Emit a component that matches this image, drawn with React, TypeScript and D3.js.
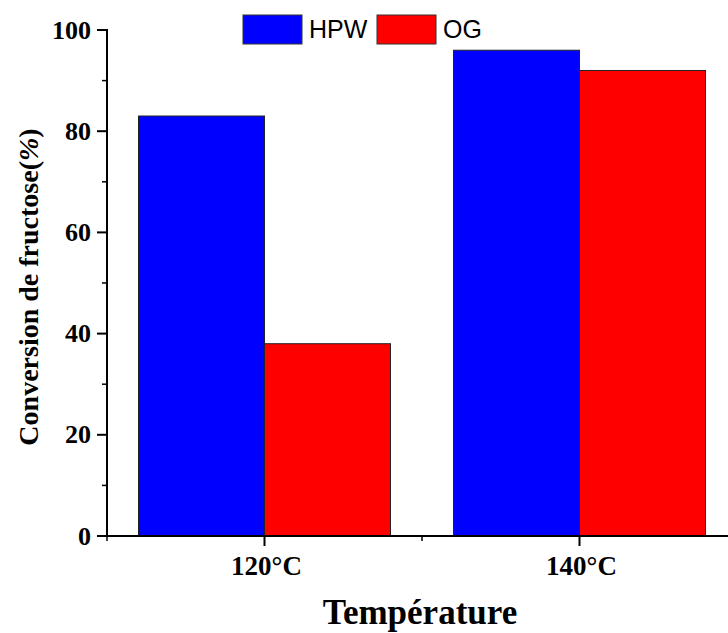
import React from "react";
import * as d3 from "d3";

const categories = ["120°C", "140°C"];
const seriesNames = ["HPW", "OG"];
const hpwValues = [83, 96];
const ogValues = [38, 92];
const seriesColors = ["#0000ff", "#ff0000"];
const yMajorTicks = [0, 20, 40, 60, 80, 100];
const yMinorTicks = [10, 30, 50, 70, 90];

export default function App() {
  const W = 728, H = 633;
  const x0 = 107, y0 = 536, yTop = 30;
  const step = 315;
  const xScale = d3.scaleBand<string>().domain(categories).range([x0, x0 + step * 2]).paddingInner(0).paddingOuter(0);
  const y = d3.scaleLinear().domain([0, 100]).range([y0, yTop]);
  const groupW = step * 0.8;
  const inner = d3.scaleBand<string>().domain(seriesNames).range([0, groupW]);
  const series = [hpwValues, ogValues];
  const serif = "'Times New Roman', 'Liberation Serif', serif";
  const sans = "Arial, 'Liberation Sans', sans-serif";
  const xMinor = [x0, x0 + step];

  return (
    <svg width={W} height={H} style={{ position: "absolute", left: 0, top: 0 }}>
      {categories.map((c, i) => {
        const cx = xScale(c)! + xScale.bandwidth() / 2;
        return seriesNames.map((s, j) => (
          <rect key={c + s}
            x={cx - groupW / 2 + inner(s)!}
            y={y(series[j][i])}
            width={inner.bandwidth()}
            height={y0 - y(series[j][i])}
            fill={seriesColors[j]} stroke="#222" strokeWidth={1} />
        ));
      })}
      {/* y axis */}
      <line x1={x0} x2={x0} y1={yTop - 1} y2={y0 + 1} stroke="#000" strokeWidth={2} />
      {yMajorTicks.map(t => (
        <g key={t}>
          <line x1={x0 - 10} x2={x0} y1={y(t)} y2={y(t)} stroke="#000" strokeWidth={2} />
          <text x={x0 - 16} y={y(t)} dy="0.33em" textAnchor="end" fontFamily={serif} fontWeight="bold" fontSize={26}>{t}</text>
        </g>
      ))}
      {yMinorTicks.map(t => (
        <line key={t} x1={x0 - 5} x2={x0} y1={y(t)} y2={y(t)} stroke="#000" strokeWidth={1.5} />
      ))}
      {/* x axis */}
      <line x1={x0 - 1} x2={W} y1={y0} y2={y0} stroke="#000" strokeWidth={2} />
      {categories.map(c => {
        const cx = xScale(c)! + xScale.bandwidth() / 2;
        return (
          <g key={c}>
            <line x1={cx} x2={cx} y1={y0} y2={y0 + 10} stroke="#000" strokeWidth={2} />
            <text x={cx + 2} y={575} textAnchor="middle" fontFamily={serif} fontWeight="bold" fontSize={27}>{c}</text>
          </g>
        );
      })}
      {xMinor.map(m => (
        <line key={m} x1={m} x2={m} y1={y0} y2={y0 + 5} stroke="#000" strokeWidth={1.5} />
      ))}
      <text x={420} y={624} textAnchor="middle" fontFamily={serif} fontWeight="bold" fontSize={35}>Température</text>
      <text transform={`translate(38,287) rotate(-90)`} textAnchor="middle" fontFamily={serif} fontWeight="bold" fontSize={28}>
        Conversion de fructose(<tspan fontStyle="italic">%</tspan>)
      </text>
      {/* legend */}
      {seriesNames.map((s, j) => {
        const lx = j === 0 ? 243 : 377;
        return (
          <g key={s}>
            <rect x={lx} y={15} width={59} height={29} fill={seriesColors[j]} stroke="#333" strokeWidth={1} />
            <text x={lx + 66} y={38} fontFamily={sans} fontSize={25}>{s}</text>
          </g>
        );
      })}
    </svg>
  );
}
